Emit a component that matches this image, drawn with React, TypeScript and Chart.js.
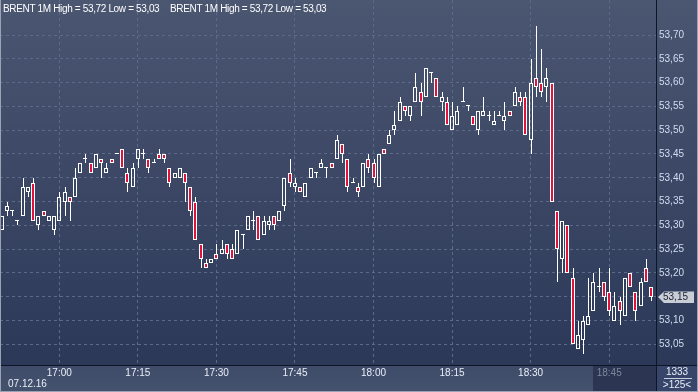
import React, { useEffect, useRef } from "react";
import { Chart, registerables } from "chart.js";

Chart.register(...registerables);

// ---- data (1-minute candles, 16:49 .. 18:53) ----
const startHour = 16;
const startMinute = 49;
const candleCount = 125;

const opens: number[] = [
  53.29, 53.33, 53.33, 53.31, 53.32, 53.37, 53.39, 53.30, 53.33, 53.31,
  53.29, 53.31, 53.35, 53.36, 53.36, 53.41, 53.44, 53.43, 53.42, 53.44,
  53.41, 53.44, 53.45, 53.46, 53.41, 53.38, 53.44, 53.45, 53.44, 53.43,
  53.45, 53.45, 53.42, 53.40, 53.40, 53.41, 53.38, 53.35, 53.26, 53.22,
  53.22, 53.24, 53.24, 53.26, 53.25, 53.24, 53.28, 53.29, 53.31, 53.32,
  53.28, 53.30, 53.32, 53.31, 53.34, 53.41, 53.38, 53.38, 53.36, 53.40,
  53.41, 53.42, 53.42, 53.43, 53.44, 53.47, 53.44, 53.39, 53.38, 53.38,
  53.44, 53.43, 53.38, 53.46, 53.47, 53.50, 53.52, 53.55, 53.53, 53.56,
  53.58, 53.57, 53.62, 53.61, 53.56, 53.56, 53.50, 53.51, 53.56, 53.55,
  53.53, 53.50, 53.53, 53.53, 53.51, 53.53, 53.52, 53.54, 53.55, 53.57,
  53.57, 53.48, 53.61, 53.60, 53.59, 53.60, 53.33, 53.23, 53.30, 53.19,
  53.04, 53.06, 53.09, 53.12, 53.17, 53.18, 53.16, 53.10, 53.14, 53.11,
  53.20, 53.16, 53.13, 53.21, 53.17,
];
const highs: number[] = [
  53.32, 53.35, 53.33, 53.31, 53.40, 53.38, 53.40, 53.32, 53.33, 53.32,
  53.32, 53.37, 53.38, 53.36, 53.42, 53.43, 53.45, 53.43, 53.45, 53.44,
  53.43, 53.44, 53.45, 53.46, 53.42, 53.43, 53.46, 53.46, 53.44, 53.44,
  53.46, 53.45, 53.42, 53.41, 53.42, 53.41, 53.38, 53.36, 53.26, 53.23,
  53.23, 53.26, 53.27, 53.26, 53.26, 53.29, 53.28, 53.32, 53.33, 53.32,
  53.32, 53.32, 53.32, 53.33, 53.40, 53.44, 53.40, 53.38, 53.39, 53.42,
  53.41, 53.44, 53.42, 53.43, 53.49, 53.47, 53.44, 53.40, 53.39, 53.43,
  53.45, 53.44, 53.45, 53.46, 53.50, 53.54, 53.57, 53.55, 53.55, 53.62,
  53.60, 53.63, 53.62, 53.61, 53.58, 53.57, 53.56, 53.55, 53.59, 53.55,
  53.53, 53.54, 53.57, 53.54, 53.54, 53.54, 53.56, 53.54, 53.59, 53.58,
  53.58, 53.65, 53.72, 53.67, 53.63, 53.60, 53.33, 53.31, 53.30, 53.21,
  53.10, 53.11, 53.19, 53.20, 53.21, 53.18, 53.21, 53.16, 53.15, 53.19,
  53.20, 53.16, 53.19, 53.23, 53.17,
];
const lows: number[] = [
  53.29, 53.32, 53.32, 53.30, 53.32, 53.36, 53.31, 53.29, 53.32, 53.31,
  53.28, 53.31, 53.32, 53.31, 53.36, 53.41, 53.43, 53.41, 53.42, 53.40,
  53.41, 53.43, 53.45, 53.42, 53.37, 53.38, 53.42, 53.44, 53.41, 53.43,
  53.44, 53.43, 53.38, 53.40, 53.40, 53.35, 53.32, 53.27, 53.21, 53.21,
  53.22, 53.23, 53.24, 53.23, 53.23, 53.24, 53.25, 53.29, 53.29, 53.27,
  53.28, 53.29, 53.29, 53.31, 53.33, 53.38, 53.37, 53.37, 53.36, 53.40,
  53.40, 53.42, 53.40, 53.42, 53.44, 53.43, 53.37, 53.39, 53.36, 53.38,
  53.41, 53.39, 53.38, 53.45, 53.47, 53.49, 53.52, 53.53, 53.52, 53.56,
  53.53, 53.57, 53.60, 53.57, 53.54, 53.51, 53.50, 53.51, 53.56, 53.54,
  53.51, 53.49, 53.53, 53.52, 53.51, 53.53, 53.50, 53.53, 53.55, 53.55,
  53.49, 53.45, 53.57, 53.57, 53.56, 53.35, 53.18, 53.20, 53.20, 53.05,
  53.04, 53.03, 53.09, 53.12, 53.16, 53.14, 53.11, 53.10, 53.09, 53.11,
  53.17, 53.10, 53.13, 53.18, 53.14,
];
const closes: number[] = [
  53.32, 53.34, 53.33, 53.31, 53.38, 53.38, 53.31, 53.32, 53.32, 53.32,
  53.32, 53.36, 53.37, 53.35, 53.40, 53.43, 53.44, 53.41, 53.45, 53.43,
  53.42, 53.43, 53.45, 53.42, 53.39, 53.42, 53.46, 53.45, 53.42, 53.43,
  53.44, 53.44, 53.39, 53.41, 53.42, 53.39, 53.33, 53.27, 53.23, 53.21,
  53.23, 53.23, 53.25, 53.24, 53.23, 53.29, 53.28, 53.32, 53.31, 53.27,
  53.31, 53.31, 53.30, 53.33, 53.40, 53.39, 53.39, 53.37, 53.39, 53.42,
  53.41, 53.43, 53.42, 53.42, 53.48, 53.45, 53.38, 53.39, 53.37, 53.43,
  53.42, 53.40, 53.45, 53.45, 53.49, 53.51, 53.56, 53.54, 53.55, 53.59,
  53.56, 53.63, 53.62, 53.57, 53.57, 53.51, 53.53, 53.54, 53.56, 53.55,
  53.51, 53.54, 53.54, 53.53, 53.52, 53.53, 53.53, 53.53, 53.58, 53.56,
  53.49, 53.60, 53.59, 53.58, 53.61, 53.35, 53.25, 53.31, 53.20, 53.05,
  53.07, 53.10, 53.11, 53.18, 53.17, 53.15, 53.12, 53.13, 53.12, 53.19,
  53.17, 53.12, 53.18, 53.18, 53.15,
];

const timeTickLabels: string[] = ["17:00", "17:15", "17:30", "17:45", "18:00", "18:15", "18:30", "18:45"];
const priceTicks: number[] = [53.05, 53.1, 53.15, 53.2, 53.25, 53.3, 53.35, 53.4, 53.45, 53.5, 53.55, 53.6, 53.65, 53.7];

const headerText = "BRENT 1M High = 53,72 Low = 53,03";
const dateLabel = "07.12.16";
const lastPrice = 53.15;
const volumeLabel = "1333";
const countLabel = ">125<";

// ---- derived ----
const pad = (n: number) => (n < 10 ? "0" + n : "" + n);
const minuteLabels: string[] = [];
for (let i = 0; i < candleCount; i++) {
  const t = startHour * 60 + startMinute + i;
  minuteLabels.push(pad(Math.floor(t / 60)) + ":" + pad(t % 60));
}
const tickIndex: number[] = timeTickLabels.map((l) => minuteLabels.indexOf(l));

const RED = "#e3123d";
const WHITE = "#ffffff";
const FONT = '"Liberation Sans", Arial, sans-serif';
const fmt = (v: number) => v.toFixed(2).replace(".", ",");

export default function App() {
  const ref = useRef<HTMLCanvasElement>(null);

  useEffect(() => {
    const canvas = ref.current!;
    const bodies = opens.map((o, i) => ({ x: i, y: [Math.min(o, closes[i]), Math.max(o, closes[i])] }));
    const upperWicks = opens.map((o, i) => ({ x: i, y: [Math.max(o, closes[i]), highs[i]] }));
    const lowerWicks = opens.map((o, i) => ({ x: i, y: [lows[i], Math.min(o, closes[i])] }));
    const bodyFill = opens.map((o, i) => (closes[i] < o ? RED : "rgba(0,0,0,0)"));

    // snap the library-computed bar geometry to whole pixels for crisp candles
    const snap = {
      id: "snap",
      beforeDatasetsDraw(c: any) {
        c.data.datasets.forEach((ds: any, di: number) => {
          const meta = c.getDatasetMeta(di);
          const isWick = di < 2;
          meta.data.forEach((el: any) => {
            el.x = Math.round(el.x) + (isWick ? 0.5 : 0);
            let top = Math.round(Math.min(el.y, el.base));
            let bot = Math.round(Math.max(el.y, el.base));
            if (!isWick && bot - top < 1) bot = top + 1;
            el.y = top;
            el.base = bot;
          });
        });
      },
    };

    const decor = {
      id: "decor",
      beforeDraw(c: any) {
        const ctx = c.ctx as CanvasRenderingContext2D;
        const W = c.width, H = c.height;
        const ca = c.chartArea;
        ctx.save();
        const g = ctx.createLinearGradient(0, 0, 0, ca.bottom);
        g.addColorStop(0, "#4b5671");
        g.addColorStop(1, "#2b3858");
        ctx.fillStyle = g;
        ctx.fillRect(0, 0, W, ca.bottom);
        const g2 = ctx.createLinearGradient(0, ca.bottom, 0, H);
        g2.addColorStop(0, "#3f4c69");
        g2.addColorStop(1, "#45526e");
        ctx.fillStyle = g2;
        ctx.fillRect(0, ca.bottom, W, H - ca.bottom);
        const xs = c.scales.x;
        const x1845 = xs.getPixelForValue(tickIndex[tickIndex.length - 1]);
        ctx.fillStyle = "#2c3652";
        ctx.fillRect(Math.round(x1845 - 16), ca.bottom + 1, ca.right - Math.round(x1845 - 16), H - ca.bottom - 2);
        ctx.fillStyle = "#37456a";
        ctx.fillRect(ca.right, ca.bottom, W - ca.right, H - ca.bottom);
        ctx.restore();
      },
      afterDraw(c: any) {
        const ctx = c.ctx as CanvasRenderingContext2D;
        const W = c.width, H = c.height;
        const ca = c.chartArea;
        ctx.save();
        ctx.strokeStyle = "#0e1526";
        ctx.lineWidth = 1;
        ctx.beginPath();
        ctx.moveTo(ca.right + 0.5, 0);
        ctx.lineTo(ca.right + 0.5, H);
        ctx.moveTo(0, ca.bottom + 0.5);
        ctx.lineTo(W, ca.bottom + 0.5);
        ctx.stroke();
        ctx.strokeStyle = "#9aa3b6";
        ctx.beginPath();
        ctx.moveTo(0.5, 0);
        ctx.lineTo(0.5, H);
        ctx.moveTo(0, H - 0.5);
        ctx.lineTo(W, H - 0.5);
        ctx.moveTo(W - 0.5, 0);
        ctx.lineTo(W - 0.5, H);
        ctx.stroke();
        ctx.font = "10px " + FONT;
        ctx.fillStyle = "#ffffff";
        ctx.textBaseline = "middle";
        ctx.textAlign = "left";
        (ctx as any).letterSpacing = "-0.35px";
        ctx.fillText(headerText, 3, 9);
        ctx.fillText(headerText, 170, 9);
        (ctx as any).letterSpacing = "0px";
        ctx.fillStyle = "#e8eef8";
        ctx.fillText(dateLabel, 8, 384);
        ctx.textAlign = "center";
        const cx = (ca.right + W) / 2;
        ctx.fillText(volumeLabel, cx, 372);
        ctx.fillText(countLabel, cx, 385);
        ctx.strokeStyle = "#c8d0de";
        ctx.beginPath();
        ctx.moveTo(ca.right + 8, 378.5);
        ctx.lineTo(W - 6, 378.5);
        ctx.stroke();
        const yp = Math.round(c.scales.y.getPixelForValue(lastPrice));
        const lx = ca.right + 2;
        ctx.fillStyle = "#c9cdd6";
        ctx.beginPath();
        ctx.moveTo(lx, yp);
        ctx.lineTo(lx + 6, yp - 5.5);
        ctx.lineTo(W - 4, yp - 5.5);
        ctx.lineTo(W - 4, yp + 6);
        ctx.lineTo(lx + 6, yp + 6);
        ctx.closePath();
        ctx.fill();
        ctx.fillStyle = "#1a2234";
        ctx.textAlign = "left";
        ctx.fillText(fmt(lastPrice), lx + 5, yp + 0.5);
        ctx.restore();
      },
    };

    const chart = new Chart(canvas, {
      type: "bar",
      data: {
        datasets: [
          { data: upperWicks as any, backgroundColor: WHITE, borderWidth: 0, barThickness: 1, grouped: false, inflateAmount: 0 } as any,
          { data: lowerWicks as any, backgroundColor: WHITE, borderWidth: 0, barThickness: 1, grouped: false, inflateAmount: 0 } as any,
          {
            data: bodies as any,
            backgroundColor: bodyFill,
            borderColor: WHITE,
            borderWidth: 1,
            borderSkipped: false,
            barThickness: 4,
            minBarLength: 1,
            grouped: false,
            inflateAmount: 0,
          } as any,
        ],
      },
      options: {
        animation: false,
        responsive: false,
        devicePixelRatio: 1,
        layout: { padding: 0, autoPadding: false } as any,
        plugins: { legend: { display: false }, tooltip: { enabled: false }, title: { display: false } },
        scales: {
          x: {
            type: "linear",
            offset: false,
            min: -0.32,
            max: 124.94,
            grid: { color: "#5b6a88", lineWidth: 1, tickLength: 0, offset: false, drawTicks: false },
            border: { display: false, dash: [3, 3] },
            afterBuildTicks: (s: any) => {
              s.ticks = tickIndex.map((v) => ({ value: v }));
            },
            afterFit: (s: any) => {
              s.height = 27;
              s.paddingLeft = 0;
              s.paddingRight = 0;
            },
            ticks: {
              autoSkip: false,
              maxRotation: 0,
              padding: 2,
              font: { size: 10, family: FONT },
              color: (ctx: any) => (ctx.index === tickIndex.length - 1 ? "#7d879b" : "#e8eef8"),
              callback: (v: any) => minuteLabels[v] ?? "",
            },
          },
          y: {
            type: "linear",
            position: "right",
            min: 53.0065,
            max: 53.7736,
            grid: { color: "#5b6a88", lineWidth: 1, tickLength: 0, drawTicks: false },
            border: { display: false, dash: [3, 3] },
            afterBuildTicks: (s: any) => {
              s.ticks = priceTicks.map((v) => ({ value: v }));
            },
            afterFit: (s: any) => {
              s.width = 42;
              s.paddingTop = 0;
              s.paddingBottom = 0;
            },
            ticks: {
              padding: 3,
              font: { size: 10, family: FONT },
              color: "#cfdcf2",
              callback: (v: any) => (Math.abs(v - lastPrice) < 1e-6 ? "" : fmt(v)),
            },
          },
        },
      } as any,
      plugins: [snap, decor],
    });
    return () => chart.destroy();
  }, []);

  return (
    <div style={{ position: "fixed", left: 0, top: 0, width: 698, height: 392 }}>
      <canvas ref={ref} width={698} height={392} style={{ display: "block", width: 698, height: 392 }} />
    </div>
  );
}
